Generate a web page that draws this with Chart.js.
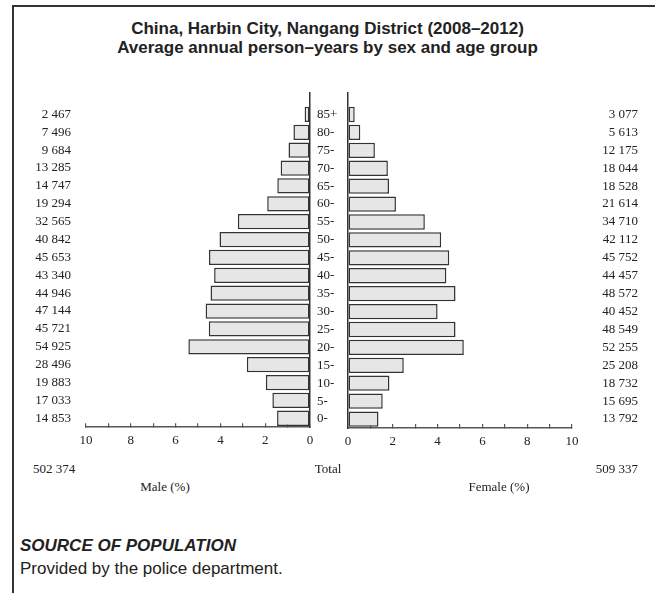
<!DOCTYPE html>
<html>
<head>
<meta charset="utf-8">
<script src="https://cdn.jsdelivr.net/npm/chart.js@4.4.1/dist/chart.umd.min.js"></script>
<style>
  body { margin: 0; background: #fff; }
  #page { position: relative; width: 655px; height: 593px; overflow: hidden; }
  .line { position: absolute; background: #333; }
  .t { position: absolute; white-space: nowrap; color: #222; }
  .serif { font-family: "Liberation Serif", "DejaVu Serif", serif; font-size: 13px; line-height: 16px; }
  .sans { font-family: "Liberation Sans", Arial, sans-serif; font-size: 17px; line-height: 19px; }
  #title { left: 0; width: 655px; top: 19px; text-align: center; font-weight: bold; }
  canvas { position: absolute; top: 0; }
</style>
</head>
<body>
<div id="page">
  <div class="line" style="left:12px; top:5px; width:643px; height:2px;"></div>
  <div class="line" style="left:12px; top:5px; width:2px; height:588px;"></div>
  <div id="title" class="t sans">China, Harbin City, Nangang District (2008–2012)<br>Average annual person–years by sex and age group</div>
  <canvas id="male" width="330" height="450" style="left:0"></canvas>
  <canvas id="female" width="321" height="450" style="left:317px"></canvas>
  <div id="maleTotal" class="t serif" style="left:33px; top:461px;"></div>
  <div class="t serif" style="left:328px; top:461px; transform:translateX(-50%);">Total</div>
  <div id="femaleTotal" class="t serif" style="right:17px; top:461px;"></div>
  <div class="t serif" style="left:165px; top:479px; transform:translateX(-50%);">Male (%)</div>
  <div class="t serif" style="left:499px; top:479px; transform:translateX(-50%);">Female (%)</div>
  <div class="t sans" style="left:20px; top:536px; font-weight:bold; font-style:italic;">SOURCE OF POPULATION</div>
  <div class="t sans" style="left:20px; top:559px;">Provided by the police department.</div>
</div>
<script>
// age groups, youngest first
const ages = ['0-', '5-', '10-', '15-', '20-', '25-', '30-', '35-', '40-', '45-',
  '50-', '55-', '60-', '65-', '70-', '75-', '80-', '85+'];
const maleCount = [14853, 17033, 19883, 28496, 54925, 45721, 47144, 44946, 43340,
  45653, 40842, 32565, 19294, 14747, 13285, 9684, 7496, 2467];
const femaleCount = [13792, 15695, 18732, 25208, 52255, 48549, 40452, 48572, 44457,
  45752, 42112, 34710, 21614, 18528, 18044, 12175, 5613, 3077];
// share of the total population (%)
const malePct = [1.47, 1.68, 1.97, 2.82, 5.43, 4.52, 4.66, 4.44, 4.28,
  4.51, 4.04, 3.22, 1.91, 1.46, 1.31, 0.96, 0.74, 0.24];
const femalePct = [1.36, 1.55, 1.85, 2.49, 5.17, 4.80, 4.00, 4.80, 4.39,
  4.52, 4.16, 3.43, 2.14, 1.83, 1.78, 1.20, 0.55, 0.30];
const maleTotal = 502374;
const femaleTotal = 509337;

const fmt = n => String(n).replace(/\B(?=(\d{3})+(?!\d))/g, ' ');
document.getElementById('maleTotal').textContent = fmt(maleTotal);
document.getElementById('femaleTotal').textContent = fmt(femaleTotal);

const serif = { family: '"Liberation Serif", "DejaVu Serif", serif', size: 13 };
const ink = '#222';
const ageTicks = s => { s.ticks = ages.map((a, i) => ({ value: i })); };

function barSet(values) {
  return {
    data: values.map((v, i) => ({ x: v, y: i })),
    backgroundColor: '#e6e6e6',
    borderColor: '#333',
    borderWidth: 1.5,
    borderSkipped: false,
    barPercentage: 0.95,
    categoryPercentage: 0.9
  };
}

function xScale(reverse) {
  return {
    type: 'linear', min: 0, max: 10, reverse: reverse,
    afterFit: s => { s.height = 22; },
    ticks: { stepSize: 1, autoSkip: false, maxRotation: 0, padding: 10, font: serif, color: ink,
      callback: v => (v % 2 === 0 ? v : '') },
    grid: { drawOnChartArea: false, tickLength: -4, color: '#555', lineWidth: 1.2 },
    border: { color: '#555', width: 1.5 }
  };
}

// y runs from below "0-" to a little above "85+"
const yRange = { type: 'linear', min: -0.5, max: 18.2, offset: false };

new Chart(document.getElementById('male'), {
  type: 'bar',
  data: { datasets: [barSet(malePct)] },
  options: {
    indexAxis: 'y', responsive: false, animation: false,
    layout: { padding: { top: 93, left: 0, right: 0, bottom: 0 } },
    plugins: { legend: { display: false }, tooltip: { enabled: false } },
    scales: {
      x: xScale(true),
      y: { ...yRange, position: 'right', afterBuildTicks: ageTicks,
        afterFit: s => { s.width = 20; },
        ticks: { display: false }, grid: { display: false, offset: false },
        border: { color: '#333', width: 1.5 } },
      yc: { ...yRange, position: 'left', afterBuildTicks: ageTicks,
        afterFit: s => { s.width = 86; },
        ticks: { autoSkip: false, padding: 15, font: serif, color: ink, callback: v => fmt(maleCount[v]) },
        grid: { display: false, drawTicks: false, offset: false }, border: { display: false } }
    }
  }
});

new Chart(document.getElementById('female'), {
  type: 'bar',
  data: { datasets: [barSet(femalePct)] },
  options: {
    indexAxis: 'y', responsive: false, animation: false,
    layout: { padding: { top: 93, left: 0, right: 0, bottom: 0 } },
    plugins: { legend: { display: false }, tooltip: { enabled: false } },
    scales: {
      x: xScale(false),
      y: { ...yRange, position: 'left', afterBuildTicks: ageTicks,
        afterFit: s => { s.width = 31; },
        ticks: { autoSkip: false, crossAlign: 'far', font: serif, color: ink, callback: v => ages[v] },
        grid: { display: false, drawTicks: false, offset: false },
        border: { color: '#333', width: 1.5 } },
      yc: { ...yRange, position: 'right', afterBuildTicks: ageTicks,
        afterFit: s => { s.width = 66; },
        ticks: { autoSkip: false, crossAlign: 'far', font: serif, color: ink, callback: v => fmt(femaleCount[v]) },
        grid: { display: false, drawTicks: false, offset: false }, border: { display: false } }
    }
  }
});
</script>
</body>
</html>
